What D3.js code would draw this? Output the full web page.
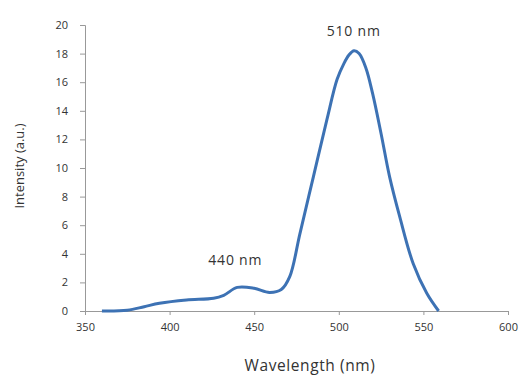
<!DOCTYPE html>
<html>
<head>
<meta charset="utf-8">
<script src="https://cdn.jsdelivr.net/npm/d3@7"></script>
<style>
  body { margin: 0; background: #fff; }
  text { font-family: "Open Sans", "DejaVu Sans", sans-serif; fill: #333; }
</style>
</head>
<body>
<svg id="chart" width="522" height="376"></svg>
<script>
// spectrum
const wavelength = [360, 375, 385, 394, 410, 426, 432, 440, 450, 459, 466, 471, 477, 485, 493, 499, 503, 506, 509, 512, 516, 520, 525, 530, 536, 544, 552, 559];
const intensity  = [0, 0.05, 0.3, 0.54, 0.77, 0.89, 1.1, 1.65, 1.59, 1.3, 1.5, 2.4, 5.4, 9.4, 13.4, 16.2, 17.3, 17.9, 18.2, 18.0, 17.0, 15.2, 12.4, 9.4, 6.6, 3.3, 1.24, 0];
const xTicks = [350, 400, 450, 500, 550, 600];
const yTicks = [0, 2, 4, 6, 8, 10, 12, 14, 16, 18, 20];
const peaks = [{ label: '440 nm', x: 440, y: 3.5 }, { label: '510 nm', x: 510, y: 19.5 }];

const svg = d3.select('#chart');
const x = d3.scaleLinear().domain([350, 600]).range([85, 508]);
const y = d3.scaleLinear().domain([0, 20]).range([311, 25]);

const xAxis = svg.append('g')
  .attr('transform', `translate(0,${y(0)})`)
  .call(d3.axisBottom(x).tickValues(xTicks).tickSize(4).tickPadding(8));
const yAxis = svg.append('g')
  .attr('transform', `translate(${x(350)},0)`)
  .call(d3.axisLeft(y).tickValues(yTicks).tickSize(5).tickPadding(12));

[xAxis, yAxis].forEach(ax => {
  ax.select('.domain').attr('stroke', '#999');
  ax.selectAll('.tick line').attr('stroke', '#999');
  ax.selectAll('.tick text').attr('font-size', 11).attr('fill', '#333')
    .attr('font-family', '"Open Sans", sans-serif');
});

const pts = wavelength.map((w, i) => [w, intensity[i]]);
svg.append('path')
  .datum(pts)
  .attr('fill', 'none')
  .attr('stroke', '#3d72b4')
  .attr('stroke-width', 3)
  .attr('stroke-linejoin', 'round')
  .attr('d', d3.line().x(d => x(d[0])).y(d => y(d[1])).curve(d3.curveCatmullRom.alpha(0.5)));

svg.selectAll('.peak')
  .data(peaks)
  .enter()
  .append('text')
  .attr('x', d => x(d.x) - 2)
  .attr('y', d => y(d.y) + 4)
  .attr('text-anchor', 'middle')
  .attr('font-size', 14)
  .attr('letter-spacing', 0.8)
  .text(d => d.label);

svg.append('text')
  .attr('x', 310)
  .attr('y', 371)
  .attr('text-anchor', 'middle')
  .attr('font-size', 15.5)
  .attr('letter-spacing', 0.6)
  .text('Wavelength (nm)');

svg.append('text')
  .attr('transform', 'translate(24,166) rotate(-90)')
  .attr('text-anchor', 'middle')
  .attr('font-size', 13)
  .text('Intensity (a.u.)');
</script>
</body>
</html>
